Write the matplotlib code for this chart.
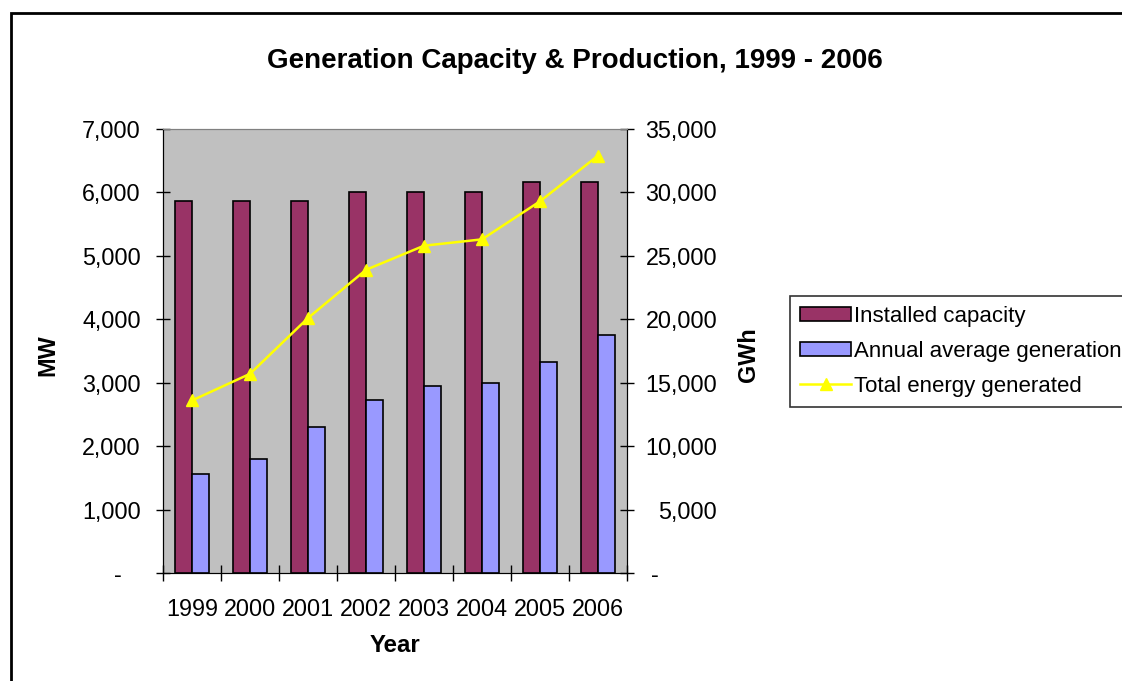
import matplotlib
matplotlib.use("Agg")
import matplotlib.pyplot as plt
from matplotlib.patches import Rectangle
from matplotlib.ticker import FixedLocator
import numpy as np

years = ["1999", "2000", "2001", "2002", "2003", "2004", "2005", "2006"]
installed_capacity = [5860, 5860, 5860, 6000, 6000, 6000, 6160, 6160]
annual_avg_generation = [1560, 1800, 2300, 2720, 2950, 3000, 3330, 3750]
total_energy = [13600, 15700, 20100, 23900, 25800, 26300, 29300, 32900]
mw_ticks = [0, 1000, 2000, 3000, 4000, 5000, 6000, 7000]
gwh_ticks = [0, 5000, 10000, 15000, 20000, 25000, 30000, 35000]

plt.rcParams['font.family'] = ['Liberation Sans', 'DejaVu Sans']
FS = 16.8

fig = plt.figure(figsize=(11.22, 6.81), dpi=100)
fig.patch.set_facecolor('white')
# outer chart border (extends past right/bottom edge)
fig.patches.append(Rectangle((11/1122, -0.05), 1.2, 1 - 13/681 + 0.05,
                             transform=fig.transFigure, fill=False,
                             edgecolor='black', linewidth=2))

ax = fig.add_axes([163/1122, 1 - 573/681, 464/1122, 444/681])
ax.set_facecolor('#C0C0C0')
x = np.arange(len(years))
w = 0.285
ax.bar(x - w/2, installed_capacity, w, color='#993366', edgecolor='black',
       linewidth=1.2, label='Installed capacity', zorder=2)
ax.bar(x + w/2, annual_avg_generation, w, color='#9999FF', edgecolor='black',
       linewidth=1.2, label='Annual average generation', zorder=2)
ax.set_xlim(-0.5, len(years) - 0.5)
ax.set_ylim(0, 7000)
ax.set_yticks(mw_ticks)
ax.set_yticklabels(["-   "] + [f"{v:,}" for v in mw_ticks[1:]], fontsize=FS)
ax.tick_params(axis='y', direction='inout', length=10, width=1, pad=11)
ax.set_xticks(x)
ax.set_xticklabels(years, fontsize=FS)
ax.tick_params(axis='x', which='major', length=0, pad=18)
ax.xaxis.set_minor_locator(FixedLocator(np.arange(-0.5, len(years), 1.0)))
ax.tick_params(axis='x', which='minor', direction='inout', length=12, width=1)
for s in ['left', 'right', 'bottom']:
    ax.spines[s].set_color('black')
ax.spines['top'].set_color('#808080')
ax.spines['bottom'].set_color('#404040')

ax2 = ax.twinx()
ax2.plot(x, total_energy, color='#FFFF00', linewidth=1.8, marker='^',
         markersize=9, label='Total energy generated', zorder=3)
ax2.set_ylim(0, 35000)
ax2.set_yticks(gwh_ticks)
ax2.set_yticklabels(["-         "] + [f"{v:,}" for v in gwh_ticks[1:]], fontsize=FS,
                    ha='right')
ax2.tick_params(axis='y', direction='inout', length=10, width=1, pad=60)
ax2.spines['top'].set_color('#808080')
ax2.spines['right'].set_color('black')

fig.text(0.512, 1 - 61/681, "Generation Capacity & Production, 1999 - 2006",
         ha='center', va='center', fontsize=20, fontweight='bold')
fig.text(48/1122, 1 - 355/681, "MW", rotation=90, ha='center', va='center',
         fontsize=FS, fontweight='bold')
fig.text(748/1122, 1 - 355/681, "GWh", rotation=90, ha='center', va='center',
         fontsize=FS, fontweight='bold')
fig.text(395/1122, 1 - 646/681, "Year", ha='center', va='center',
         fontsize=FS + 0.5, fontweight='bold')

h1, l1 = ax.get_legend_handles_labels()
h2, l2 = ax2.get_legend_handles_labels()
leg = fig.legend(h1 + h2, l1 + l2, loc='upper left',
                 bbox_to_anchor=(790/1122, 1 - 296/681), fontsize=16,
                 frameon=True, fancybox=False, shadow=False, borderpad=0.45,
                 labelspacing=0.62, handlelength=2.3, handletextpad=0.15,
                 handleheight=0.6, borderaxespad=0)
leg.get_frame().set_edgecolor('black')
leg.get_frame().set_linewidth(1.2)

fig.savefig("out.png", dpi=100, facecolor='white')
